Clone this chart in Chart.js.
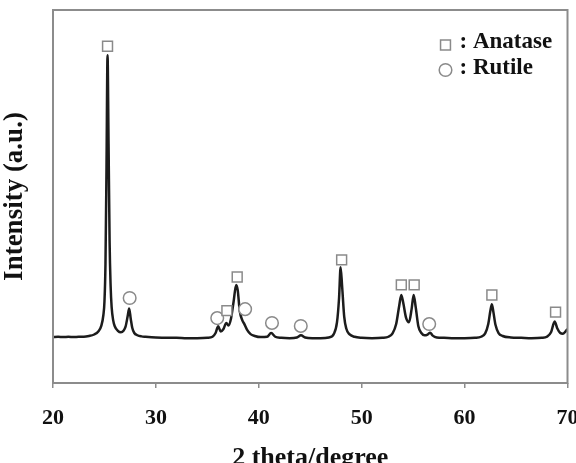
<!DOCTYPE html>
<html>
<head>
<meta charset="utf-8">
<script src="https://cdn.jsdelivr.net/npm/chart.js@4.4.1/dist/chart.umd.min.js"></script>
<style>
  html, body { margin: 0; padding: 0; background: #fff; }
  #wrap { width: 576px; height: 463px; position: relative; }
</style>
</head>
<body>
<div id="wrap"><canvas id="c"></canvas></div>
<script>
// ---- data ----
const xTicks = [20, 30, 40, 50, 60, 70];

const twoTheta = [
  20.0, 20.5, 21.0, 21.5, 22.0, 22.5, 23.0, 23.5, 24.0, 24.4, 24.7, 24.9, 25.0, 25.1, 25.2, 25.3,
  25.4, 25.5, 25.6, 25.7, 25.85, 26.0, 26.3, 26.6, 26.85, 27.05, 27.25, 27.4, 27.55, 27.7, 27.9,
  28.2, 28.6, 29.0, 30.0, 31.0, 32.0, 33.0, 34.0, 35.0, 35.5, 35.8, 36.05, 36.3, 36.55, 36.85,
  37.05, 37.3, 37.55, 37.8, 37.95, 38.15, 38.4, 38.6, 38.85, 39.2, 39.6, 40.2, 40.8, 41.2, 41.6,
  42.2, 43.0, 43.7, 44.1, 44.5, 45.2, 46.0, 46.8, 47.3, 47.6, 47.8, 47.95, 48.1, 48.3, 48.5, 48.8,
  49.3, 50.0, 51.0, 52.0, 52.6, 53.0, 53.35, 53.65, 53.85, 54.05, 54.3, 54.6, 54.85, 55.05, 55.25,
  55.5, 55.8, 56.1, 56.4, 56.65, 56.9, 57.3, 58.0, 59.0, 60.0, 61.0, 61.6, 62.0, 62.3, 62.5, 62.65,
  62.8, 63.0, 63.3, 63.7, 64.5, 65.5, 66.5, 67.5, 68.0, 68.4, 68.75, 69.0, 69.3, 69.55, 69.8, 70.0
];
const intensity = [
  12.3, 12.4, 12.3, 12.4, 12.3, 12.4, 12.4, 12.6, 13.0, 13.8, 15.4, 18.3, 21.8, 32.0, 58.0, 87.9,
  64.0, 38.0, 26.0, 20.3, 16.8, 15.2, 14.0, 13.6, 14.0, 15.1, 17.8, 20.0, 17.3, 14.8, 13.4,
  12.8, 12.5, 12.4, 12.2, 12.1, 12.1, 12.0, 12.0, 12.1, 12.4, 13.4, 15.2, 13.8, 14.4, 16.1,
  15.4, 17.3, 21.8, 26.3, 24.9, 19.3, 16.8, 15.8, 14.3, 13.1, 12.6, 12.3, 12.4, 13.4, 12.4,
  12.1, 12.0, 12.2, 12.8, 12.2, 12.0, 12.0, 12.2, 13.2, 16.3, 22.8, 31.0, 25.8, 17.8, 14.6, 13.1,
  12.4, 12.1, 12.0, 12.1, 12.4, 13.3, 15.8, 20.8, 23.6, 21.3, 17.6, 16.3, 19.8, 23.6, 20.3,
  15.3, 13.4, 12.8, 13.0, 13.5, 12.7, 12.2, 12.1, 12.0, 12.0, 12.1, 12.4, 13.3, 15.8, 19.3, 21.1,
  19.0, 15.6, 13.4, 12.6, 12.2, 12.1, 12.0, 12.1, 12.4, 13.6, 16.5, 14.7, 13.4, 13.2, 13.8, 14.5
];

// phase markers (position of each symbol above its peak)
const anataseX = [25.3, 36.9, 37.9, 48.05, 53.85, 55.1, 62.65, 68.84];
const anataseY = [90.3, 19.4, 28.4, 33.0, 26.3, 26.3, 23.6, 19.0];
const rutileX  = [27.45, 35.96, 38.67, 41.28, 44.08, 56.56];
const rutileY  = [22.8, 17.4, 19.8, 16.1, 15.3, 15.8];

const legendLabels = [': Anatase', ': Rutile'];
const axisTitleX = '2 theta/degree';
const axisTitleY = 'Intensity (a.u.)';

// ---- build chart ----
const serif = "'Liberation Serif', 'Times New Roman', serif";
const markerColor = '#8a8a8a';
const frameColor = '#8c8c8c';

const toPts = (xs, ys) => xs.map((x, i) => ({ x: x, y: ys[i] }));

const frame = {
  id: 'frame',
  afterDatasetsDraw(chart) {
    const { ctx, chartArea: a } = chart;
    ctx.save();
    ctx.strokeStyle = frameColor;
    ctx.lineWidth = 2;
    ctx.strokeRect(a.left, a.top, a.right - a.left, a.bottom - a.top);
    ctx.restore();
  }
};

const phaseLegend = {
  id: 'phaseLegend',
  afterDraw(chart) {
    const { ctx, chartArea: a } = chart;
    const styles = ['rect', 'circle'];
    const radii = [7, 6.3];
    const rows = [a.top + 32, a.top + 58];
    const markerDy = [3, 2];
    ctx.save();
    legendLabels.forEach((t, i) => {
      ctx.lineWidth = 1.5;
      ctx.strokeStyle = markerColor;
      ctx.fillStyle = '#fff';
      Chart.helpers.drawPoint(ctx, { pointStyle: styles[i], radius: radii[i], borderWidth: 1.5 },
        a.right - 122, rows[i] + markerDy[i]);
      ctx.fillStyle = '#111';
      ctx.font = 'bold 23px ' + serif;
      ctx.textAlign = 'left';
      ctx.textBaseline = 'middle';
      ctx.fillText(t, a.right - 108, rows[i]);
    });
    ctx.restore();
  }
};

new Chart(document.getElementById('c'), {
  type: 'line',
  data: {
    datasets: [
      {
        label: 'Anatase',
        data: toPts(anataseX, anataseY),
        showLine: false,
        pointStyle: 'rect',
        pointRadius: 7,
        pointBorderWidth: 1.5,
        pointBorderColor: markerColor,
        pointBackgroundColor: '#fff',
        order: 0
      },
      {
        label: 'Rutile',
        data: toPts(rutileX, rutileY),
        showLine: false,
        pointStyle: 'circle',
        pointRadius: 6.3,
        pointBorderWidth: 1.5,
        pointBorderColor: markerColor,
        pointBackgroundColor: '#fff',
        order: 0
      },
      {
        label: 'XRD',
        data: toPts(twoTheta, intensity),
        borderColor: '#1c1c1c',
        borderWidth: 2.5,
        pointRadius: 0,
        cubicInterpolationMode: 'monotone',
        fill: false,
        order: 1
      }
    ]
  },
  options: {
    responsive: true,
    maintainAspectRatio: false,
    animation: false,
    devicePixelRatio: 1,
    layout: { padding: { top: 10, right: 6, left: 0, bottom: 0 } },
    plugins: {
      legend: { display: false },
      tooltip: { enabled: false }
    },
    scales: {
      x: {
        type: 'linear',
        min: 20,
        max: 70,
        afterBuildTicks(scale) { scale.ticks = xTicks.map(v => ({ value: v })); },
        afterFit(scale) { scale.height = 80; scale.paddingLeft = 0; scale.paddingRight = 0; },
        ticks: {
          color: '#111',
          font: { family: serif, size: 22, weight: 'bold' },
          padding: 17,
          maxRotation: 0,
          autoSkip: false
        },
        grid: {
          display: true,
          drawOnChartArea: false,
          drawTicks: true,
          tickLength: 5,
          color: frameColor,
          lineWidth: 1.5
        },
        border: { display: false },
        title: {
          display: true,
          text: axisTitleX,
          color: '#111',
          font: { family: serif, size: 26, weight: 'bold', lineHeight: 1 },
          padding: { top: 0, bottom: -8 }
        }
      },
      y: {
        type: 'linear',
        min: 0,
        max: 100,
        afterFit(scale) { scale.width = 53; },
        ticks: { display: false },
        grid: { display: false },
        border: { display: false },
        title: {
          display: true,
          text: axisTitleY,
          color: '#111',
          font: { family: serif, size: 27, weight: 'bold', lineHeight: 1 },
          padding: { top: 2, bottom: 0 }
        }
      }
    }
  },
  plugins: [frame, phaseLegend]
});
</script>
</body>
</html>
